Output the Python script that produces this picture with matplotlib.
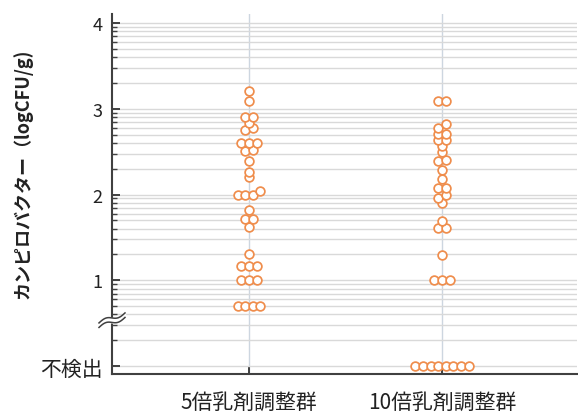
import numpy as np
import matplotlib
matplotlib.use('Agg')
import matplotlib.pyplot as plt
import matplotlib.transforms as mtransforms

plt.rcParams['font.family'] = ['Noto Sans CJK JP', 'DejaVu Sans']

groups = ['5倍乳剤調整群', '10倍乳剤調整群']
ytick_vals = [0, 1, 2, 3, 4]
ytick_labels = ['不検出', '1', '2', '3', '4']

# logCFU/g  (0 = 不検出)
vals_5x = [0.70, 0.70, 0.70, 0.70, 1.00, 1.00, 1.00, 1.17, 1.17, 1.17,
           1.31, 1.62, 1.71, 1.71, 1.82, 2.00, 2.00, 2.00, 2.04, 2.21,
           2.26, 2.39, 2.51, 2.52, 2.60, 2.60, 2.60, 2.75, 2.78, 2.83,
           2.90, 2.90, 3.09, 3.21]
vals_10x = [0.0, 0.0, 0.0, 0.0, 0.0, 0.0, 0.0, 0.0, 1.00, 1.00,
            1.00, 1.30, 1.61, 1.61, 1.69, 1.90, 1.96, 2.00, 2.08, 2.08,
            2.18, 2.29, 2.39, 2.40, 2.50, 2.57, 2.64, 2.64, 2.71, 2.71,
            2.78, 2.82, 3.09, 3.09]


def swarm(vals, row_h=0.045, step=0.0395):
    # points close in value share a row, spread symmetrically around the centre
    v = np.sort(np.asarray(vals, dtype=float))
    offs = np.zeros(len(v))
    i = 0
    while i < len(v):
        j = i
        while j < len(v) and v[j] - v[i] <= row_h + 1e-9:
            j += 1
        n = j - i
        offs[i:j] = (np.arange(n) - (n - 1) / 2) * step
        i = j
    return v, offs


fig = plt.figure(figsize=(5.78, 4.14), dpi=100)
ax = fig.add_axes([112 / 578, 39 / 414, 465 / 578, 360 / 414])

ylo, yhi = -0.093, 4.105
ax.set_ylim(ylo, yhi)
ax.set_xlim(-0.71, 1.70)

# log-style minor lines inside every decade
minor = [n + np.log10(k) for n in range(4) for k in range(2, 10)]
ax.set_yticks(ytick_vals)
ax.set_yticklabels(ytick_labels)
ax.set_yticks(minor, minor=True)
ax.set_xticks(range(len(groups)))
ax.set_xticklabels(groups)

ax.grid(axis='y', which='both', color='#d9d9d9', lw=1.0, zorder=0)
ax.grid(axis='x', which='major', color='#cdd6e0', lw=1.0, zorder=0)
ax.set_axisbelow(True)

for k, vals in enumerate([vals_5x, vals_10x]):
    v, off = swarm(vals)
    ax.plot(k + off, v, 'o', ms=6.3, mfc='white', mec='#ef8d4c', mew=1.25,
            ls='none', zorder=3, clip_on=False)

for s in ['top', 'right']:
    ax.spines[s].set_visible(False)
for s in ['left', 'bottom']:
    ax.spines[s].set_color('#404040')
    ax.spines[s].set_linewidth(1.5)

ax.tick_params(axis='both', which='major', direction='in', length=6, width=1.4,
               color='#404040', labelsize=15, labelcolor='#222222')
ax.tick_params(axis='y', which='minor', direction='in', length=3.5, width=1.0,
               color='#404040')
ax.tick_params(axis='y', which='major', pad=7)
ax.tick_params(axis='x', which='major', pad=12)
for lab in ax.get_yticklabels()[1:]:
    lab.set_fontsize(13)

ax.set_ylabel('カンピロバクター（logCFU/g)', fontsize=13, fontweight='bold',
              color='#222222')
ax.yaxis.set_label_coords(-0.172, 0.56)

# axis break mark on the y axis
trans = mtransforms.blended_transform_factory(ax.transAxes, ax.transData)
t = np.linspace(0, 1, 60)
px_x = 1 / 465
px_y = (yhi - ylo) / 360
xs = (-13 + 26 * t) * px_x
yb = 0.45 + (10 * t + 2.2 * np.sin(2 * np.pi * t)) * px_y
gap = 4.5 * px_y
ax.fill_between(xs, yb, yb + gap, color='white', transform=trans,
                clip_on=False, zorder=4)
ax.plot(xs, yb, color='#404040', lw=1.1, transform=trans, clip_on=False, zorder=5)
ax.plot(xs, yb + gap, color='#404040', lw=1.1, transform=trans, clip_on=False, zorder=5)

fig.savefig('out.png', dpi=100)
